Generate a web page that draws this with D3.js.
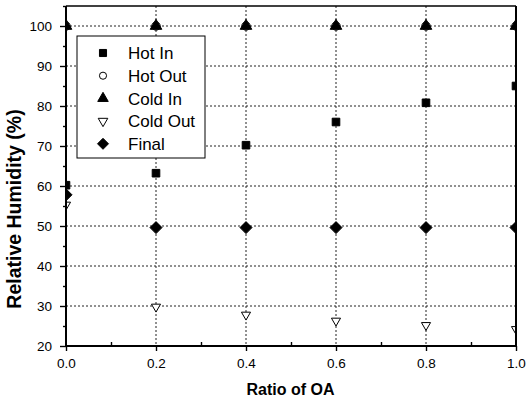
<!DOCTYPE html>
<html><head><meta charset="utf-8">
<script src="https://cdn.jsdelivr.net/npm/d3@7"></script>
<style>body{margin:0;background:#fff}svg{display:block}</style>
</head><body>
<svg id="c" width="526" height="401"></svg>
<script>
const ratio = [0.0, 0.2, 0.4, 0.6, 0.8, 1.0];
const hotIn = [60.2, 63.2, 70.2, 76, 80.8, 85];
const hotOut = [100, 100, 100, 100, 100, 100];
const coldIn = [100, 100, 100, 100, 100, 100];
const coldOut = [55.3, 29.8, 27.8, 26.3, 25.2, 24.2];
const final = [57.8, 49.6, 49.6, 49.6, 49.6, 49.6];
const seriesNames = ["Hot In", "Hot Out", "Cold In", "Cold Out", "Final"];
const xTicks = [0.0, 0.2, 0.4, 0.6, 0.8, 1.0];
const yTicks = [20, 30, 40, 50, 60, 70, 80, 90, 100];

const svg = d3.select("#c");
const L = 66, R = 516, T = 6, B = 346;
const x = d3.scaleLinear().domain([0, 1]).range([L, R]);
const y = d3.scaleLinear().domain([20, 105]).range([B, T]);
const font = "Arial, 'Liberation Sans', sans-serif";

svg.append("defs").append("clipPath").attr("id", "clip")
  .append("rect").attr("x", L).attr("y", T).attr("width", R - L).attr("height", B - T);

// grid
const g = svg.append("g");
g.selectAll("line.gx").data(xTicks.slice(1, -1)).join("line")
  .attr("x1", d => x(d)).attr("x2", d => x(d)).attr("y1", T).attr("y2", B)
  .attr("stroke", "#222").attr("stroke-width", 1).attr("stroke-dasharray", "2,2");
g.selectAll("line.gy").data(yTicks.slice(1)).join("line")
  .attr("x1", L).attr("x2", R).attr("y1", d => y(d)).attr("y2", d => y(d))
  .attr("stroke", "#222").attr("stroke-width", 1).attr("stroke-dasharray", "2,2");

// axes
const xAxis = d3.axisBottom(x).tickValues(xTicks).tickFormat(d3.format(".1f")).tickSize(5).tickPadding(7.5);
const xMinor = d3.axisBottom(x).tickValues([0.1,0.3,0.5,0.7,0.9]).tickFormat("").tickSize(-4);
const yAxis = d3.axisLeft(y).tickValues(yTicks).tickSize(6).tickPadding(8);
const yMinor = d3.axisLeft(y).tickValues([25,35,45,55,65,75,85,95,105]).tickFormat("").tickSize(3);

function style(sel) {
  sel.select(".domain").remove();
  sel.selectAll("line").attr("stroke", "#000").attr("stroke-width", 1.4);
  sel.selectAll("text").attr("fill", "#000").style("font-family", font).style("font-size", "13.5px");
}
svg.append("g").attr("transform", `translate(0,${B})`).call(xAxis).call(style);
svg.append("g").attr("transform", `translate(0,${B})`).call(xMinor).call(style);
svg.append("g").attr("transform", `translate(${L},0)`).call(yAxis).call(style);
svg.append("g").attr("transform", `translate(${L},0)`).call(yMinor).call(style);

// symbols
const diamond = (s) => `M0,${-s}L${s},0L0,${s}L${-s},0Z`;
const sym = {
  "Hot In": {path: d3.symbol(d3.symbolSquare, 58)(), fill: "#000", legend: d3.symbol(d3.symbolSquare, 50)()},
  "Hot Out": {path: d3.symbol(d3.symbolCircle, 55)(), fill: "#fff", legend: d3.symbol(d3.symbolCircle, 40)()},
  "Cold In": {path: d3.symbol(d3.symbolTriangle, 58)(), fill: "#000", legend: d3.symbol(d3.symbolTriangle, 48)()},
  "Cold Out": {path: d3.symbol(d3.symbolTriangle, 36)(), fill: "#fff", rot: true, legend: d3.symbol(d3.symbolTriangle, 40)()},
  "Final": {path: diamond(6), fill: "#000", legend: diamond(5.5)}
};

const data = {"Hot In": hotIn, "Hot Out": hotOut, "Cold In": coldIn, "Cold Out": coldOut, "Final": final};
const pts = svg.append("g").attr("clip-path", "url(#clip)");
seriesNames.forEach(name => {
  const s = sym[name];
  pts.selectAll(null).data(ratio.map((r, i) => [r, data[name][i]])).join("path")
    .attr("d", s.path)
    .attr("transform", d => `translate(${x(d[0])},${y(d[1])})${s.rot ? " rotate(180)" : ""}`)
    .attr("fill", s.fill).attr("stroke", "#000").attr("stroke-width", 1);
});

// frame
svg.append("line").attr("x1", L).attr("x2", R).attr("y1", T).attr("y2", T).attr("stroke", "#000").attr("stroke-width", 1.5);
svg.append("line").attr("x1", R).attr("x2", R).attr("y1", T).attr("y2", B).attr("stroke", "#000").attr("stroke-width", 2);
svg.append("line").attr("x1", L).attr("x2", L).attr("y1", T).attr("y2", B + 1).attr("stroke", "#000").attr("stroke-width", 2);
svg.append("line").attr("x1", L).attr("x2", R + 1).attr("y1", B).attr("y2", B).attr("stroke", "#000").attr("stroke-width", 2);

// legend
const lg = svg.append("g");
lg.append("rect").attr("x", 77).attr("y", 36).attr("width", 128).attr("height", 122)
  .attr("fill", "#fff").attr("stroke", "#000").attr("stroke-width", 1);
seriesNames.forEach((name, i) => {
  const cy = 53 + i * 22.7;
  const s = sym[name];
  lg.append("path").attr("d", s.legend)
    .attr("transform", `translate(103,${cy})${s.rot ? " rotate(180)" : ""}`)
    .attr("fill", s.fill).attr("stroke", "#000").attr("stroke-width", 1);
  lg.append("text").attr("x", 128).attr("y", cy).attr("dy", "0.36em")
    .style("font-family", font).style("font-size", "17px").text(name);
});

// axis titles
svg.append("text").attr("x", 290.5).attr("y", 395).attr("text-anchor", "middle")
  .style("font-family", font).style("font-size", "16px").style("font-weight", "bold").text("Ratio of OA");
svg.append("text").attr("transform", `translate(21,209) rotate(-90)`).attr("text-anchor", "middle")
  .style("font-family", font).style("font-size", "19.5px").style("font-weight", "bold").text("Relative Humidity (%)");
</script>
</body></html>
